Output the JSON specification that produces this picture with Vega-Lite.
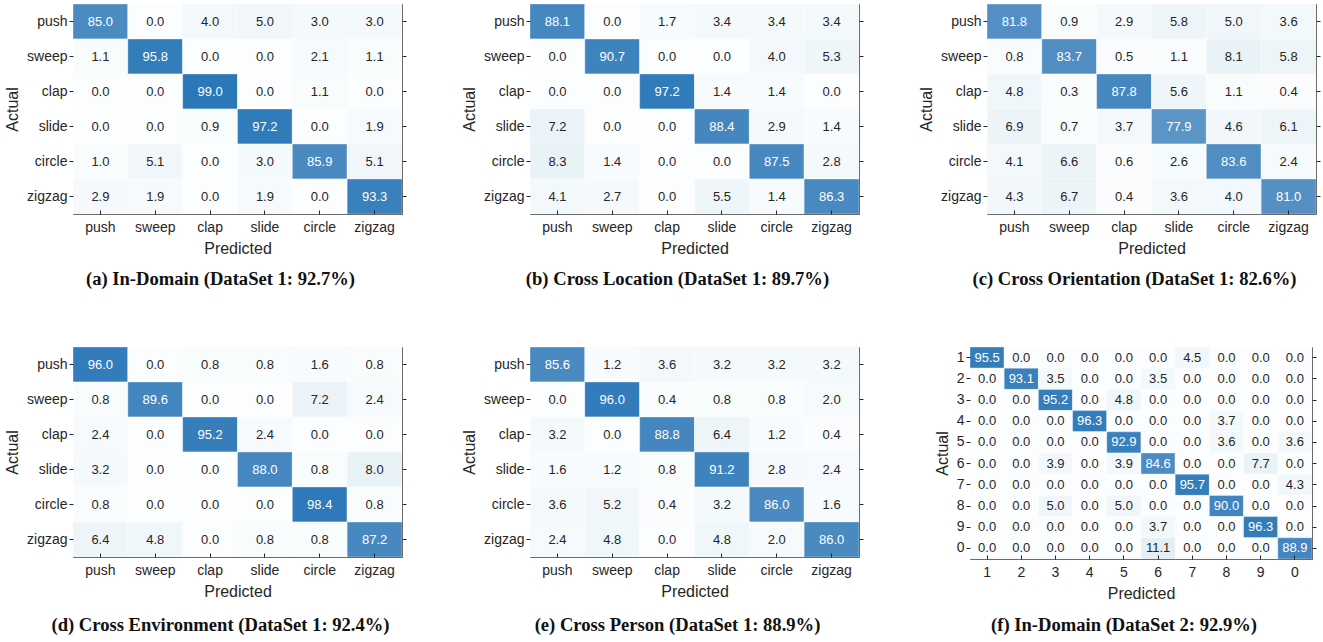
{
"$schema": "https://vega.github.io/schema/vega-lite/v6.json",
"padding": {"left": 4, "top": 3, "right": 4, "bottom": 4},
"background": "white",
"datasets": {
"a": [
{"t":"push","p":"push","v":85.0},{"t":"push","p":"sweep","v":0.0},{"t":"push","p":"clap","v":4.0},{"t":"push","p":"slide","v":5.0},{"t":"push","p":"circle","v":3.0},{"t":"push","p":"zigzag","v":3.0},
{"t":"sweep","p":"push","v":1.1},{"t":"sweep","p":"sweep","v":95.8},{"t":"sweep","p":"clap","v":0.0},{"t":"sweep","p":"slide","v":0.0},{"t":"sweep","p":"circle","v":2.1},{"t":"sweep","p":"zigzag","v":1.1},
{"t":"clap","p":"push","v":0.0},{"t":"clap","p":"sweep","v":0.0},{"t":"clap","p":"clap","v":99.0},{"t":"clap","p":"slide","v":0.0},{"t":"clap","p":"circle","v":1.1},{"t":"clap","p":"zigzag","v":0.0},
{"t":"slide","p":"push","v":0.0},{"t":"slide","p":"sweep","v":0.0},{"t":"slide","p":"clap","v":0.9},{"t":"slide","p":"slide","v":97.2},{"t":"slide","p":"circle","v":0.0},{"t":"slide","p":"zigzag","v":1.9},
{"t":"circle","p":"push","v":1.0},{"t":"circle","p":"sweep","v":5.1},{"t":"circle","p":"clap","v":0.0},{"t":"circle","p":"slide","v":3.0},{"t":"circle","p":"circle","v":85.9},{"t":"circle","p":"zigzag","v":5.1},
{"t":"zigzag","p":"push","v":2.9},{"t":"zigzag","p":"sweep","v":1.9},{"t":"zigzag","p":"clap","v":0.0},{"t":"zigzag","p":"slide","v":1.9},{"t":"zigzag","p":"circle","v":0.0},{"t":"zigzag","p":"zigzag","v":93.3}
],
"b": [
{"t":"push","p":"push","v":88.1},{"t":"push","p":"sweep","v":0.0},{"t":"push","p":"clap","v":1.7},{"t":"push","p":"slide","v":3.4},{"t":"push","p":"circle","v":3.4},{"t":"push","p":"zigzag","v":3.4},
{"t":"sweep","p":"push","v":0.0},{"t":"sweep","p":"sweep","v":90.7},{"t":"sweep","p":"clap","v":0.0},{"t":"sweep","p":"slide","v":0.0},{"t":"sweep","p":"circle","v":4.0},{"t":"sweep","p":"zigzag","v":5.3},
{"t":"clap","p":"push","v":0.0},{"t":"clap","p":"sweep","v":0.0},{"t":"clap","p":"clap","v":97.2},{"t":"clap","p":"slide","v":1.4},{"t":"clap","p":"circle","v":1.4},{"t":"clap","p":"zigzag","v":0.0},
{"t":"slide","p":"push","v":7.2},{"t":"slide","p":"sweep","v":0.0},{"t":"slide","p":"clap","v":0.0},{"t":"slide","p":"slide","v":88.4},{"t":"slide","p":"circle","v":2.9},{"t":"slide","p":"zigzag","v":1.4},
{"t":"circle","p":"push","v":8.3},{"t":"circle","p":"sweep","v":1.4},{"t":"circle","p":"clap","v":0.0},{"t":"circle","p":"slide","v":0.0},{"t":"circle","p":"circle","v":87.5},{"t":"circle","p":"zigzag","v":2.8},
{"t":"zigzag","p":"push","v":4.1},{"t":"zigzag","p":"sweep","v":2.7},{"t":"zigzag","p":"clap","v":0.0},{"t":"zigzag","p":"slide","v":5.5},{"t":"zigzag","p":"circle","v":1.4},{"t":"zigzag","p":"zigzag","v":86.3}
],
"c": [
{"t":"push","p":"push","v":81.8},{"t":"push","p":"sweep","v":0.9},{"t":"push","p":"clap","v":2.9},{"t":"push","p":"slide","v":5.8},{"t":"push","p":"circle","v":5.0},{"t":"push","p":"zigzag","v":3.6},
{"t":"sweep","p":"push","v":0.8},{"t":"sweep","p":"sweep","v":83.7},{"t":"sweep","p":"clap","v":0.5},{"t":"sweep","p":"slide","v":1.1},{"t":"sweep","p":"circle","v":8.1},{"t":"sweep","p":"zigzag","v":5.8},
{"t":"clap","p":"push","v":4.8},{"t":"clap","p":"sweep","v":0.3},{"t":"clap","p":"clap","v":87.8},{"t":"clap","p":"slide","v":5.6},{"t":"clap","p":"circle","v":1.1},{"t":"clap","p":"zigzag","v":0.4},
{"t":"slide","p":"push","v":6.9},{"t":"slide","p":"sweep","v":0.7},{"t":"slide","p":"clap","v":3.7},{"t":"slide","p":"slide","v":77.9},{"t":"slide","p":"circle","v":4.6},{"t":"slide","p":"zigzag","v":6.1},
{"t":"circle","p":"push","v":4.1},{"t":"circle","p":"sweep","v":6.6},{"t":"circle","p":"clap","v":0.6},{"t":"circle","p":"slide","v":2.6},{"t":"circle","p":"circle","v":83.6},{"t":"circle","p":"zigzag","v":2.4},
{"t":"zigzag","p":"push","v":4.3},{"t":"zigzag","p":"sweep","v":6.7},{"t":"zigzag","p":"clap","v":0.4},{"t":"zigzag","p":"slide","v":3.6},{"t":"zigzag","p":"circle","v":4.0},{"t":"zigzag","p":"zigzag","v":81.0}
],
"d": [
{"t":"push","p":"push","v":96.0},{"t":"push","p":"sweep","v":0.0},{"t":"push","p":"clap","v":0.8},{"t":"push","p":"slide","v":0.8},{"t":"push","p":"circle","v":1.6},{"t":"push","p":"zigzag","v":0.8},
{"t":"sweep","p":"push","v":0.8},{"t":"sweep","p":"sweep","v":89.6},{"t":"sweep","p":"clap","v":0.0},{"t":"sweep","p":"slide","v":0.0},{"t":"sweep","p":"circle","v":7.2},{"t":"sweep","p":"zigzag","v":2.4},
{"t":"clap","p":"push","v":2.4},{"t":"clap","p":"sweep","v":0.0},{"t":"clap","p":"clap","v":95.2},{"t":"clap","p":"slide","v":2.4},{"t":"clap","p":"circle","v":0.0},{"t":"clap","p":"zigzag","v":0.0},
{"t":"slide","p":"push","v":3.2},{"t":"slide","p":"sweep","v":0.0},{"t":"slide","p":"clap","v":0.0},{"t":"slide","p":"slide","v":88.0},{"t":"slide","p":"circle","v":0.8},{"t":"slide","p":"zigzag","v":8.0},
{"t":"circle","p":"push","v":0.8},{"t":"circle","p":"sweep","v":0.0},{"t":"circle","p":"clap","v":0.0},{"t":"circle","p":"slide","v":0.0},{"t":"circle","p":"circle","v":98.4},{"t":"circle","p":"zigzag","v":0.8},
{"t":"zigzag","p":"push","v":6.4},{"t":"zigzag","p":"sweep","v":4.8},{"t":"zigzag","p":"clap","v":0.0},{"t":"zigzag","p":"slide","v":0.8},{"t":"zigzag","p":"circle","v":0.8},{"t":"zigzag","p":"zigzag","v":87.2}
],
"e": [
{"t":"push","p":"push","v":85.6},{"t":"push","p":"sweep","v":1.2},{"t":"push","p":"clap","v":3.6},{"t":"push","p":"slide","v":3.2},{"t":"push","p":"circle","v":3.2},{"t":"push","p":"zigzag","v":3.2},
{"t":"sweep","p":"push","v":0.0},{"t":"sweep","p":"sweep","v":96.0},{"t":"sweep","p":"clap","v":0.4},{"t":"sweep","p":"slide","v":0.8},{"t":"sweep","p":"circle","v":0.8},{"t":"sweep","p":"zigzag","v":2.0},
{"t":"clap","p":"push","v":3.2},{"t":"clap","p":"sweep","v":0.0},{"t":"clap","p":"clap","v":88.8},{"t":"clap","p":"slide","v":6.4},{"t":"clap","p":"circle","v":1.2},{"t":"clap","p":"zigzag","v":0.4},
{"t":"slide","p":"push","v":1.6},{"t":"slide","p":"sweep","v":1.2},{"t":"slide","p":"clap","v":0.8},{"t":"slide","p":"slide","v":91.2},{"t":"slide","p":"circle","v":2.8},{"t":"slide","p":"zigzag","v":2.4},
{"t":"circle","p":"push","v":3.6},{"t":"circle","p":"sweep","v":5.2},{"t":"circle","p":"clap","v":0.4},{"t":"circle","p":"slide","v":3.2},{"t":"circle","p":"circle","v":86.0},{"t":"circle","p":"zigzag","v":1.6},
{"t":"zigzag","p":"push","v":2.4},{"t":"zigzag","p":"sweep","v":4.8},{"t":"zigzag","p":"clap","v":0.0},{"t":"zigzag","p":"slide","v":4.8},{"t":"zigzag","p":"circle","v":2.0},{"t":"zigzag","p":"zigzag","v":86.0}
],
"f": [
{"t":"1","p":"1","v":95.5},{"t":"1","p":"2","v":0},{"t":"1","p":"3","v":0},{"t":"1","p":"4","v":0},{"t":"1","p":"5","v":0},{"t":"1","p":"6","v":0},{"t":"1","p":"7","v":4.5},{"t":"1","p":"8","v":0},{"t":"1","p":"9","v":0},{"t":"1","p":"0","v":0},
{"t":"2","p":"1","v":0},{"t":"2","p":"2","v":93.1},{"t":"2","p":"3","v":3.5},{"t":"2","p":"4","v":0},{"t":"2","p":"5","v":0},{"t":"2","p":"6","v":3.5},{"t":"2","p":"7","v":0},{"t":"2","p":"8","v":0},{"t":"2","p":"9","v":0},{"t":"2","p":"0","v":0},
{"t":"3","p":"1","v":0},{"t":"3","p":"2","v":0},{"t":"3","p":"3","v":95.2},{"t":"3","p":"4","v":0},{"t":"3","p":"5","v":4.8},{"t":"3","p":"6","v":0},{"t":"3","p":"7","v":0},{"t":"3","p":"8","v":0},{"t":"3","p":"9","v":0},{"t":"3","p":"0","v":0},
{"t":"4","p":"1","v":0},{"t":"4","p":"2","v":0},{"t":"4","p":"3","v":0},{"t":"4","p":"4","v":96.3},{"t":"4","p":"5","v":0},{"t":"4","p":"6","v":0},{"t":"4","p":"7","v":0},{"t":"4","p":"8","v":3.7},{"t":"4","p":"9","v":0},{"t":"4","p":"0","v":0},
{"t":"5","p":"1","v":0},{"t":"5","p":"2","v":0},{"t":"5","p":"3","v":0},{"t":"5","p":"4","v":0},{"t":"5","p":"5","v":92.9},{"t":"5","p":"6","v":0},{"t":"5","p":"7","v":0},{"t":"5","p":"8","v":3.6},{"t":"5","p":"9","v":0},{"t":"5","p":"0","v":3.6},
{"t":"6","p":"1","v":0},{"t":"6","p":"2","v":0},{"t":"6","p":"3","v":3.9},{"t":"6","p":"4","v":0},{"t":"6","p":"5","v":3.9},{"t":"6","p":"6","v":84.6},{"t":"6","p":"7","v":0},{"t":"6","p":"8","v":0},{"t":"6","p":"9","v":7.7},{"t":"6","p":"0","v":0},
{"t":"7","p":"1","v":0},{"t":"7","p":"2","v":0},{"t":"7","p":"3","v":0},{"t":"7","p":"4","v":0},{"t":"7","p":"5","v":0},{"t":"7","p":"6","v":0},{"t":"7","p":"7","v":95.7},{"t":"7","p":"8","v":0},{"t":"7","p":"9","v":0},{"t":"7","p":"0","v":4.3},
{"t":"8","p":"1","v":0},{"t":"8","p":"2","v":0},{"t":"8","p":"3","v":5.0},{"t":"8","p":"4","v":0},{"t":"8","p":"5","v":5.0},{"t":"8","p":"6","v":0},{"t":"8","p":"7","v":0},{"t":"8","p":"8","v":90.0},{"t":"8","p":"9","v":0},{"t":"8","p":"0","v":0},
{"t":"9","p":"1","v":0},{"t":"9","p":"2","v":0},{"t":"9","p":"3","v":0},{"t":"9","p":"4","v":0},{"t":"9","p":"5","v":0},{"t":"9","p":"6","v":3.7},{"t":"9","p":"7","v":0},{"t":"9","p":"8","v":0},{"t":"9","p":"9","v":96.3},{"t":"9","p":"0","v":0},
{"t":"0","p":"1","v":0},{"t":"0","p":"2","v":0},{"t":"0","p":"3","v":0},{"t":"0","p":"4","v":0},{"t":"0","p":"5","v":0},{"t":"0","p":"6","v":11.1},{"t":"0","p":"7","v":0},{"t":"0","p":"8","v":0},{"t":"0","p":"9","v":0},{"t":"0","p":"0","v":88.9}
]
},
"vconcat": [
{"hconcat": [
{"width": 329, "height": 210, "data": {"name": "a"},
 "title": {"text": "(a) In-Domain (DataSet 1: 92.7%)", "offset": 14},
 "encoding": {"x": {"field": "p", "type": "nominal", "sort": ["push","sweep","clap","slide","circle","zigzag"], "title": "Predicted"},
  "y": {"field": "t", "type": "nominal", "sort": ["push","sweep","clap","slide","circle","zigzag"], "title": "Actual"}},
 "layer": [
  {"mark": {"type": "rect", "stroke": "#ffffff", "strokeOpacity": 0.35, "strokeWidth": 1}, "encoding": {"color": {"field": "v", "type": "quantitative", "scale": {"domain": [0, 100], "range": ["#fbfdfe", "#2877b8"]}, "legend": null}}},
  {"mark": {"type": "text", "fontSize": 13}, "encoding": {"x": {"field": "p", "type": "nominal", "sort": ["push","sweep","clap","slide","circle","zigzag"], "axis": {"orient": "top", "labels": false, "title": null, "tickSize": -4}}, "y": {"field": "t", "type": "nominal", "sort": ["push","sweep","clap","slide","circle","zigzag"], "axis": {"orient": "right", "labels": false, "title": null, "tickSize": 4}}, "text": {"field": "v", "type": "quantitative", "format": ".1f"}, "color": {"condition": {"test": "datum.v > 50", "value": "#ffffff"}, "value": "#262626"}}}
 ], "resolve": {"axis": {"x": "independent", "y": "independent"}}},
{"width": 329, "height": 210, "data": {"name": "b"},
 "title": {"text": "(b) Cross Location (DataSet 1: 89.7%)", "offset": 14},
 "encoding": {"x": {"field": "p", "type": "nominal", "sort": ["push","sweep","clap","slide","circle","zigzag"], "title": "Predicted"},
  "y": {"field": "t", "type": "nominal", "sort": ["push","sweep","clap","slide","circle","zigzag"], "title": "Actual"}},
 "layer": [
  {"mark": {"type": "rect", "stroke": "#ffffff", "strokeOpacity": 0.35, "strokeWidth": 1}, "encoding": {"color": {"field": "v", "type": "quantitative", "scale": {"domain": [0, 100], "range": ["#fbfdfe", "#2877b8"]}, "legend": null}}},
  {"mark": {"type": "text", "fontSize": 13}, "encoding": {"x": {"field": "p", "type": "nominal", "sort": ["push","sweep","clap","slide","circle","zigzag"], "axis": {"orient": "top", "labels": false, "title": null, "tickSize": -4}}, "y": {"field": "t", "type": "nominal", "sort": ["push","sweep","clap","slide","circle","zigzag"], "axis": {"orient": "right", "labels": false, "title": null, "tickSize": 4}}, "text": {"field": "v", "type": "quantitative", "format": ".1f"}, "color": {"condition": {"test": "datum.v > 50", "value": "#ffffff"}, "value": "#262626"}}}
 ], "resolve": {"axis": {"x": "independent", "y": "independent"}}},
{"width": 329, "height": 210, "data": {"name": "c"},
 "title": {"text": "(c) Cross Orientation (DataSet 1: 82.6%)", "offset": 14},
 "encoding": {"x": {"field": "p", "type": "nominal", "sort": ["push","sweep","clap","slide","circle","zigzag"], "title": "Predicted"},
  "y": {"field": "t", "type": "nominal", "sort": ["push","sweep","clap","slide","circle","zigzag"], "title": "Actual"}},
 "layer": [
  {"mark": {"type": "rect", "stroke": "#ffffff", "strokeOpacity": 0.35, "strokeWidth": 1}, "encoding": {"color": {"field": "v", "type": "quantitative", "scale": {"domain": [0, 100], "range": ["#fbfdfe", "#2877b8"]}, "legend": null}}},
  {"mark": {"type": "text", "fontSize": 13}, "encoding": {"x": {"field": "p", "type": "nominal", "sort": ["push","sweep","clap","slide","circle","zigzag"], "axis": {"orient": "top", "labels": false, "title": null, "tickSize": -4}}, "y": {"field": "t", "type": "nominal", "sort": ["push","sweep","clap","slide","circle","zigzag"], "axis": {"orient": "right", "labels": false, "title": null, "tickSize": 4}}, "text": {"field": "v", "type": "quantitative", "format": ".1f"}, "color": {"condition": {"test": "datum.v > 50", "value": "#ffffff"}, "value": "#262626"}}}
 ], "resolve": {"axis": {"x": "independent", "y": "independent"}}}
], "spacing": 54},
{"hconcat": [
 {"hconcat": [
{"width": 329, "height": 210, "data": {"name": "d"},
 "title": {"text": "(d) Cross Environment (DataSet 1: 92.4%)", "offset": 17},
 "encoding": {"x": {"field": "p", "type": "nominal", "sort": ["push","sweep","clap","slide","circle","zigzag"], "title": "Predicted"},
  "y": {"field": "t", "type": "nominal", "sort": ["push","sweep","clap","slide","circle","zigzag"], "title": "Actual"}},
 "layer": [
  {"mark": {"type": "rect", "stroke": "#ffffff", "strokeOpacity": 0.35, "strokeWidth": 1}, "encoding": {"color": {"field": "v", "type": "quantitative", "scale": {"domain": [0, 100], "range": ["#fbfdfe", "#2877b8"]}, "legend": null}}},
  {"mark": {"type": "text", "fontSize": 13}, "encoding": {"x": {"field": "p", "type": "nominal", "sort": ["push","sweep","clap","slide","circle","zigzag"], "axis": {"orient": "top", "labels": false, "title": null, "tickSize": -4}}, "y": {"field": "t", "type": "nominal", "sort": ["push","sweep","clap","slide","circle","zigzag"], "axis": {"orient": "right", "labels": false, "title": null, "tickSize": 4}}, "text": {"field": "v", "type": "quantitative", "format": ".1f"}, "color": {"condition": {"test": "datum.v > 50", "value": "#ffffff"}, "value": "#262626"}}}
 ], "resolve": {"axis": {"x": "independent", "y": "independent"}}},
{"width": 329, "height": 210, "data": {"name": "e"},
 "title": {"text": "(e) Cross Person (DataSet 1: 88.9%)", "offset": 17},
 "encoding": {"x": {"field": "p", "type": "nominal", "sort": ["push","sweep","clap","slide","circle","zigzag"], "title": "Predicted"},
  "y": {"field": "t", "type": "nominal", "sort": ["push","sweep","clap","slide","circle","zigzag"], "title": "Actual"}},
 "layer": [
  {"mark": {"type": "rect", "stroke": "#ffffff", "strokeOpacity": 0.35, "strokeWidth": 1}, "encoding": {"color": {"field": "v", "type": "quantitative", "scale": {"domain": [0, 100], "range": ["#fbfdfe", "#2877b8"]}, "legend": null}}},
  {"mark": {"type": "text", "fontSize": 13}, "encoding": {"x": {"field": "p", "type": "nominal", "sort": ["push","sweep","clap","slide","circle","zigzag"], "axis": {"orient": "top", "labels": false, "title": null, "tickSize": -4}}, "y": {"field": "t", "type": "nominal", "sort": ["push","sweep","clap","slide","circle","zigzag"], "axis": {"orient": "right", "labels": false, "title": null, "tickSize": 4}}, "text": {"field": "v", "type": "quantitative", "format": ".1f"}, "color": {"condition": {"test": "datum.v > 50", "value": "#ffffff"}, "value": "#262626"}}}
 ], "resolve": {"axis": {"x": "independent", "y": "independent"}}}
 ], "spacing": 54},
{"width": 342, "height": 212, "data": {"name": "f"},
 "title": {"text": "(f) In-Domain (DataSet 2: 92.9%)", "offset": 15},
 "encoding": {"x": {"field": "p", "type": "nominal", "sort": ["1","2","3","4","5","6","7","8","9","0"], "title": "Predicted"},
  "y": {"field": "t", "type": "nominal", "sort": ["1","2","3","4","5","6","7","8","9","0"], "title": "Actual"}},
 "layer": [
  {"mark": {"type": "rect", "stroke": "#ffffff", "strokeOpacity": 0.35, "strokeWidth": 1}, "encoding": {"color": {"field": "v", "type": "quantitative", "scale": {"domain": [0, 100], "range": ["#fbfdfe", "#2877b8"]}, "legend": null}}},
  {"mark": {"type": "text", "fontSize": 13}, "encoding": {"x": {"field": "p", "type": "nominal", "sort": ["1","2","3","4","5","6","7","8","9","0"], "axis": {"orient": "top", "labels": false, "title": null, "tickSize": -4}}, "y": {"field": "t", "type": "nominal", "sort": ["1","2","3","4","5","6","7","8","9","0"], "axis": {"orient": "right", "labels": false, "title": null, "tickSize": 4}}, "text": {"field": "v", "type": "quantitative", "format": ".1f"}, "color": {"condition": {"test": "datum.v > 50", "value": "#ffffff"}, "value": "#262626"}}}
 ], "resolve": {"axis": {"x": "independent", "y": "independent"}}}
], "spacing": 69}
],
"spacing": 56,
"config": {
 "font": "Liberation Sans",
 "view": {"stroke": "#4d4d4d", "strokeWidth": 1},
 "scale": {"bandPaddingInner": 0, "bandPaddingOuter": 0},
 "axis": {"labelFont": "Liberation Sans", "labelFontSize": 14, "labelColor": "#262626", "titleFont": "Liberation Sans", "titleFontSize": 16, "titleFontWeight": "normal", "titleColor": "#262626", "tickColor": "#262626", "domain": false, "grid": false, "labelAngle": 0},
 "axisX": {"tickSize": -4, "labelPadding": 10, "titlePadding": 6},
 "axisY": {"tickSize": 4, "labelPadding": 2, "titlePadding": 6},
 "title": {"orient": "bottom", "anchor": "middle", "frame": "group", "dx": -17, "font": "Liberation Serif", "fontSize": 18.6, "fontWeight": "bold", "color": "#111111"}
}
}
